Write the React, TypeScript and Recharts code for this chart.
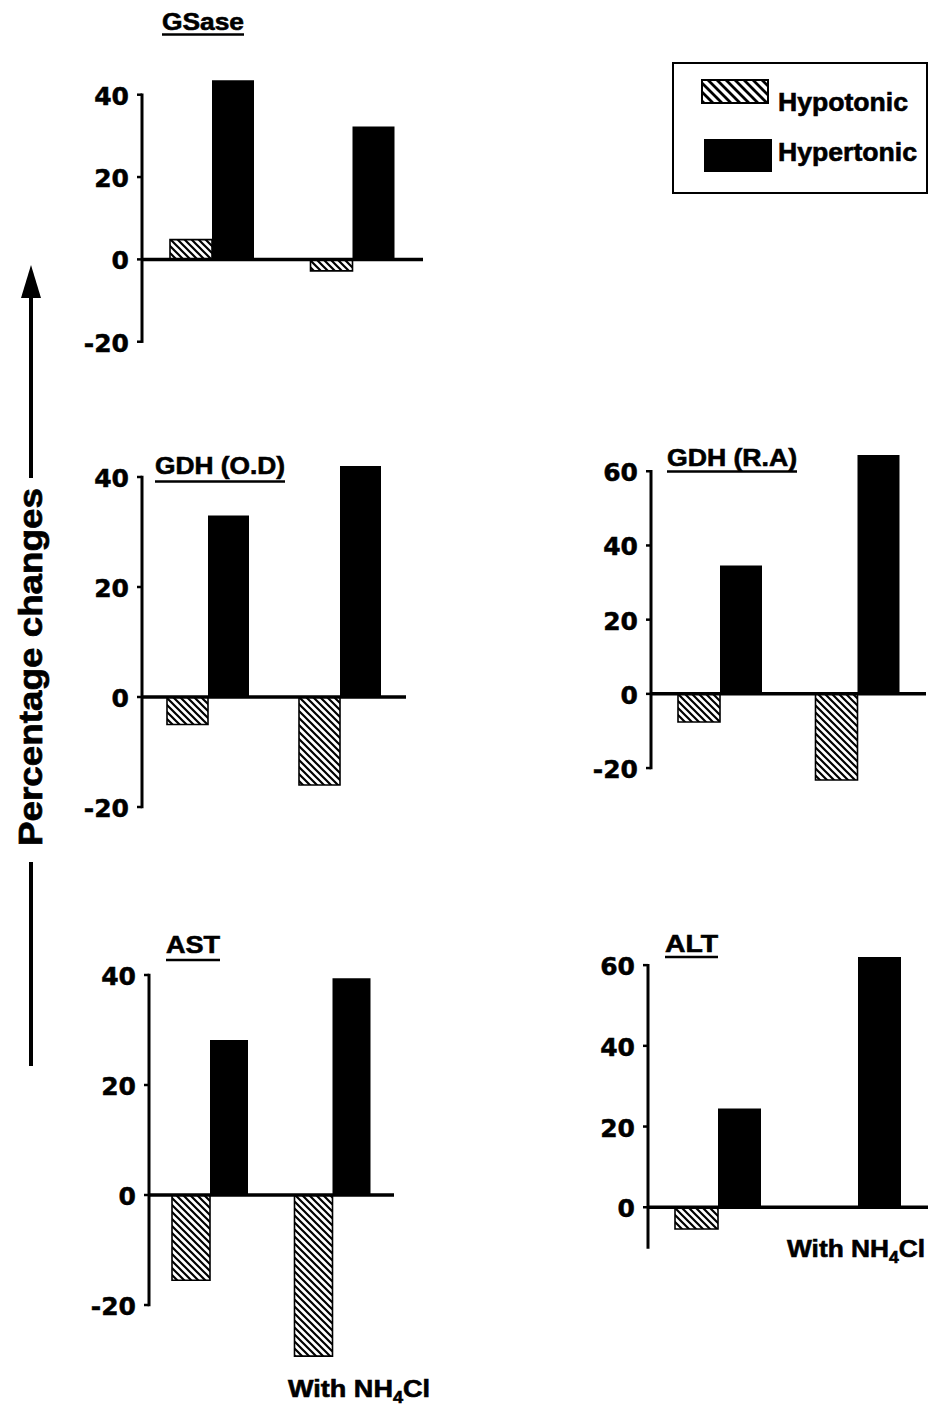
import React from "react";
import { BarChart, Bar, XAxis, YAxis, ReferenceLine, Legend } from "recharts";

// two groups per panel: plain medium, then medium with NH4Cl
const groups = ["Without NH4Cl", "With NH4Cl"];
const seriesNames = ["Hypotonic", "Hypertonic"];

const gsaseHypo = [4.8, -2.8];
const gsaseHyper = [43.5, 32.3];
const gdhOdHypo = [-5, -16];
const gdhOdHyper = [33, 42];
const gdhRaHypo = [-7.6, -23.2];
const gdhRaHyper = [34.6, 64.4];
const astHypo = [-15.5, -29.3];
const astHyper = [28.2, 39.4];
const altHypo = [-5.4, 0];
const altHyper = [24.5, 62];

const ticks40 = [-20, 0, 20, 40];
const ticks60 = [-20, 0, 20, 40, 60];
const ticksAlt = [0, 20, 40, 60];

const FONT = "'Liberation Sans', Arial, sans-serif";
const TICK_FONT = "'DejaVu Sans', sans-serif";
const AXIS_W = 70;
const PAD = 20;

type PanelDef = {
  id: string;
  hypo: number[];
  hyper: number[];
  ticks: number[];
  axisBottom: number;
  domain: [number, number];
  zeroY: number;
  ppu: number;
  plotLeft: number;
  plotRight: number;
  barSize: number;
  legend?: boolean;
};

const panels: PanelDef[] = [
  { id: "gsase", hypo: gsaseHypo, hyper: gsaseHyper, ticks: ticks40, axisBottom: -20, domain: [-22, 46], zeroY: 259, ppu: 4.117, plotLeft: 142, plotRight: 423, barSize: 42, legend: true },
  { id: "gdhod", hypo: gdhOdHypo, hyper: gdhOdHyper, ticks: ticks40, axisBottom: -20, domain: [-22, 44], zeroY: 697, ppu: 5.5, plotLeft: 142, plotRight: 406, barSize: 41 },
  { id: "gdhra", hypo: gdhRaHypo, hyper: gdhRaHyper, ticks: ticks60, axisBottom: -20, domain: [-25, 66], zeroY: 694, ppu: 3.71, plotLeft: 651, plotRight: 926, barSize: 42 },
  { id: "ast", hypo: astHypo, hyper: astHyper, ticks: ticks40, axisBottom: -20, domain: [-31, 42], zeroY: 1195, ppu: 5.5, plotLeft: 149, plotRight: 394, barSize: 38 },
  { id: "alt", hypo: altHypo, hyper: altHyper, ticks: ticksAlt, axisBottom: -10, domain: [-12, 64], zeroY: 1207, ppu: 4.035, plotLeft: 648, plotRight: 928, barSize: 43 },
];

const LegendBox = ({ payload }: any) => {
  // keep the reference order: Hypotonic on top, Hypertonic below
  const items = seriesNames.filter((n) => (payload ?? []).some((e: any) => e.value === n));
  return (
    <svg width={256} height={132} style={{ display: "block" }}>
      <defs>
        <pattern id="hatchLegend" patternUnits="userSpaceOnUse" width={9} height={9}>
          <rect width={9} height={9} fill="#fff" />
          <path d="M-2,-2 L11,11 M-2,7 L2,11 M7,-2 L11,2" stroke="#000" strokeWidth={2.8} />
        </pattern>
      </defs>
      <rect x={1} y={1} width={254} height={130} fill="#fff" stroke="#000" strokeWidth={2} />
      <rect x={30} y={18} width={66} height={23} fill="url(#hatchLegend)" stroke="#000" strokeWidth={2} />
      <rect x={32} y={77} width={68} height={33} fill="#000" />
      {items.map((name, i) => (
        <text
          key={name}
          x={106}
          y={i === 0 ? 49 : 99}
          fontFamily={FONT}
          fontWeight="bold"
          fontSize={25}
          stroke="#000"
          strokeWidth={0.6}
          textLength={i === 0 ? 130 : 139}
          lengthAdjust="spacingAndGlyphs"
        >
          {name}
        </text>
      ))}
    </svg>
  );
};

function Panel({ p }: { p: PanelDef }) {
  const [lo, hi] = p.domain;
  const plotTop = p.zeroY - hi * p.ppu;
  const plotH = (hi - lo) * p.ppu;
  const left = p.plotLeft - AXIS_W;
  const top = plotTop - PAD;
  const width = (p.legend ? 930 : p.plotRight) - left;
  const marginRight = width - (p.plotRight - left);
  const data = groups.map((g, i) => ({ group: g, hypo: p.hypo[i], hyper: p.hyper[i] }));
  const topTick = Math.max(...p.ticks);

  const renderTick = (props: any) => {
    const { y, payload } = props;
    const v = payload.value;
    return (
      <g>
        <line x1={AXIS_W - 5} x2={AXIS_W} y1={y} y2={y} stroke="#000" strokeWidth={2.5} />
        {v === topTick && (
          <line
            x1={AXIS_W}
            x2={AXIS_W}
            y1={y - 1.2}
            y2={y + (topTick - p.axisBottom) * p.ppu + 1.2}
            stroke="#000"
            strokeWidth={3}
          />
        )}
        <text
          x={AXIS_W - 13}
          y={y}
          dy={10}
          textAnchor="end"
          fontFamily={TICK_FONT}
          fontWeight="bold"
          fontSize={25}
          stroke="#000"
          strokeWidth={0.5}
          fill="#000"
        >
          {v}
        </text>
      </g>
    );
  };

  return (
    <div style={{ position: "absolute", left, top }}>
      <BarChart
        width={width}
        height={plotH + 2 * PAD}
        data={data}
        margin={{ top: PAD, bottom: PAD, left: 0, right: marginRight }}
        barSize={p.barSize}
        barGap={0}
      >
        <XAxis dataKey="group" type="category" hide />
        <YAxis
          type="number"
          domain={p.domain}
          ticks={p.ticks}
          interval={0}
          allowDataOverflow
          width={AXIS_W}
          axisLine={false}
          tickLine={false}
          tick={renderTick}
        />
        <Bar dataKey="hypo" name="Hypotonic" fill="url(#hatch)" stroke="#000" strokeWidth={1.6} isAnimationActive={false} />
        <Bar dataKey="hyper" name="Hypertonic" fill="#000" isAnimationActive={false} />
        <ReferenceLine y={0} stroke="#000" strokeWidth={3.5} />
        {p.legend && (
          <Legend
            layout="horizontal"
            verticalAlign="middle"
            align="center"
            content={LegendBox}
            wrapperStyle={{ position: "absolute", left: 672 - left, top: 62 - top, width: 256, height: 132 }}
          />
        )}
      </BarChart>
    </div>
  );
}

const titles = [
  { text: "GSase", x: 162, y: 30, len: 82, uy: 34.5 },
  { text: "GDH (O.D)", x: 155, y: 474, len: 130, uy: 481.5 },
  { text: "GDH (R.A)", x: 667, y: 465.5, len: 130, uy: 471.5 },
  { text: "AST", x: 166, y: 953, len: 54, uy: 960 },
  { text: "ALT", x: 665, y: 952, len: 53, uy: 957 },
];

const nh4Labels = [
  { x: 288, y: 1397, len: 142 },
  { x: 787, y: 1257, len: 138 },
];

function Overlay() {
  return (
    <svg width={931} height={1407} style={{ position: "absolute", left: 0, top: 0, pointerEvents: "none" }}>
      <defs>
        <pattern id="hatch" patternUnits="userSpaceOnUse" width={7} height={7}>
          <rect width={7} height={7} fill="#fff" />
          <path d="M-2,-2 L9,9 M-2,5 L2,9 M5,-2 L9,2" stroke="#000" strokeWidth={2.2} />
        </pattern>
      </defs>
      {titles.map((t) => (
        <g key={t.text}>
          <text
            x={t.x}
            y={t.y}
            fontFamily={FONT}
            fontWeight="bold"
            fontSize={24}
            stroke="#000"
            strokeWidth={0.6}
            textLength={t.len}
            lengthAdjust="spacingAndGlyphs"
          >
            {t.text}
          </text>
          <line x1={t.x} x2={t.x + t.len} y1={t.uy} y2={t.uy} stroke="#000" strokeWidth={2.5} />
        </g>
      ))}
      {nh4Labels.map((l, i) => (
        <text
          key={i}
          x={l.x}
          y={l.y}
          fontFamily={FONT}
          fontWeight="bold"
          fontSize={24}
          stroke="#000"
          strokeWidth={0.6}
          textLength={l.len}
          lengthAdjust="spacingAndGlyphs"
        >
          With NH
          <tspan fontSize={16} dy={6}>4</tspan>
          <tspan dy={-6}>Cl</tspan>
        </text>
      ))}
      {/* y label with arrow */}
      <polygon points="31,265 21,298 41,298" fill="#000" />
      <line x1={31} x2={31} y1={296} y2={478} stroke="#000" strokeWidth={4} />
      <line x1={31} x2={31} y1={862} y2={1066} stroke="#000" strokeWidth={4} />
      <text
        transform="translate(42,667) rotate(-90)"
        textAnchor="middle"
        fontFamily={FONT}
        fontWeight="bold"
        fontSize={33}
        stroke="#000"
        strokeWidth={0.7}
        textLength={358}
        lengthAdjust="spacingAndGlyphs"
      >
        Percentage changes
      </text>
    </svg>
  );
}

export default function App() {
  return (
    <div style={{ position: "absolute", left: 0, top: 0, width: 931, height: 1407, background: "#fff" }}>
      {panels.map((p) => (
        <Panel key={p.id} p={p} />
      ))}
      <Overlay />
    </div>
  );
}
